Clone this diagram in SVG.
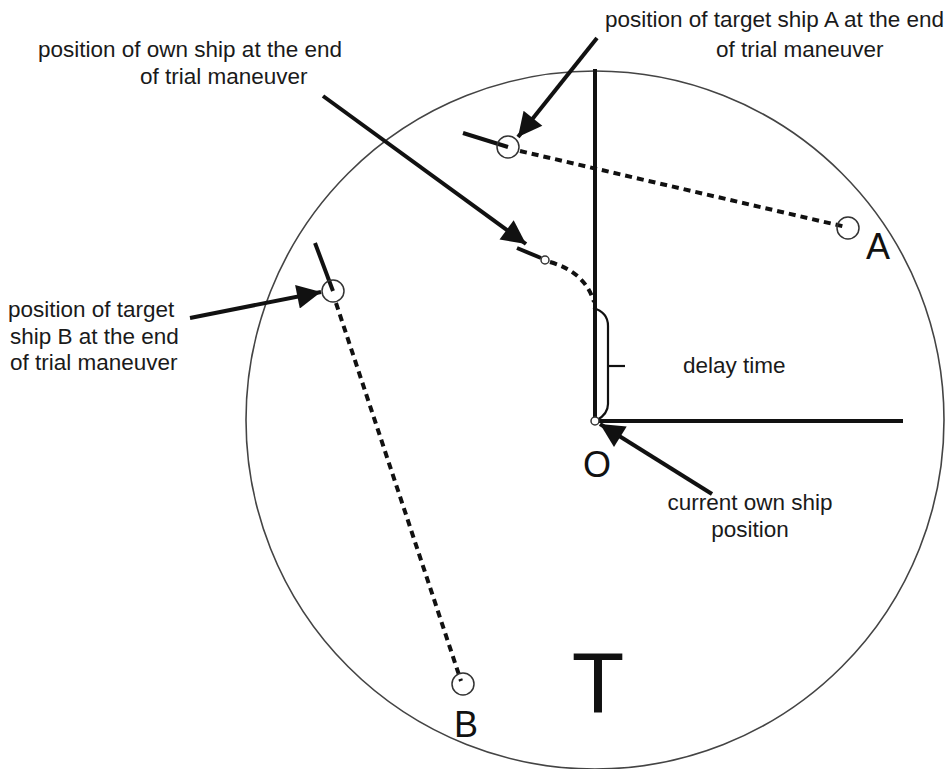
<svg xmlns="http://www.w3.org/2000/svg" width="952" height="769" viewBox="0 0 952 769">
<style>
.lbl{font-family:"Liberation Sans",Arial,sans-serif;font-size:22.5px;fill:#1a1a1a}
.big{font-family:"Liberation Sans",Arial,sans-serif;fill:#111}
.thick{stroke:#111;stroke-width:4;fill:none;stroke-linecap:butt}
.dash{stroke:#111;stroke-width:4;fill:none;stroke-dasharray:7,5}
.ring{stroke:#333;stroke-width:1.5;fill:#fff}
.ptr{stroke:#111;stroke-width:4;fill:none}
</style>
<defs>
<marker id="ah" viewBox="0 0 10 10" refX="10" refY="5" markerWidth="7" markerHeight="6" markerUnits="strokeWidth" orient="auto">
<path d="M0,0 L10,5 L0,10 z" fill="#111"/>
</marker>
</defs>
<rect width="952" height="769" fill="#fff"/>
<g id="plot">
<circle cx="595" cy="420" r="349" fill="none" stroke="#444" stroke-width="1.6"/>
<line x1="595" y1="421" x2="595" y2="69" class="thick"/>
<line x1="595" y1="421" x2="903" y2="421" class="thick"/>
</g>
<g id="delay">
<path d="M593 308 Q608 312 608 326 L608 404 Q608 414 597 420" fill="none" stroke="#111" stroke-width="2.2"/>
<line x1="608" y1="366" x2="625" y2="366" stroke="#111" stroke-width="2.2"/>
<text class="lbl" x="683" y="373">delay time</text>
</g>
<g id="own-ship">
<path d="M550 262 Q585 272 594 302" class="dash"/>
<line x1="517" y1="248" x2="541" y2="258" class="thick"/>
<circle cx="545" cy="260" r="4" class="ring"/>
</g>
<g id="target-A">
<path d="M520 151 L846 227" class="dash"/>
<line x1="463" y1="133" x2="508" y2="147" class="thick"/>
<circle cx="508" cy="147" r="11" fill="none" stroke="#333" stroke-width="1.5"/>
<circle cx="848" cy="228" r="11" fill="none" stroke="#333" stroke-width="1.5"/>
<text class="big" x="878" y="259" font-size="36" text-anchor="middle">A</text>
</g>
<g id="target-B">
<path d="M336 303 L461 681" class="dash"/>
<line x1="315" y1="243" x2="333" y2="291" class="thick"/>
<circle cx="333" cy="291" r="11" fill="none" stroke="#333" stroke-width="1.5"/>
<circle cx="463" cy="684" r="11" fill="none" stroke="#333" stroke-width="1.5"/>
<text class="big" x="466" y="737" font-size="36" text-anchor="middle">B</text>
</g>
<g id="origin">
<circle cx="595" cy="421" r="4" class="ring"/>
<text class="big" x="597" y="477" font-size="36" text-anchor="middle">O</text>
</g>
<g id="T-label">
<text class="big" x="598" y="712" font-size="86" text-anchor="middle">T</text>
</g>
<g id="connectors">
<line x1="323" y1="96" x2="526" y2="244" class="ptr" marker-end="url(#ah)"/>
<line x1="597" y1="38" x2="518" y2="137" class="ptr" marker-end="url(#ah)"/>
<line x1="190" y1="318" x2="321" y2="292" class="ptr" marker-end="url(#ah)"/>
<line x1="712" y1="494" x2="600" y2="424" class="ptr" marker-end="url(#ah)"/>
</g>
<g id="labels">
<text class="lbl" x="38" y="57">position of own ship at the end</text>
<text class="lbl" x="140" y="84">of trial maneuver</text>
<text class="lbl" x="605" y="27">position of target ship A at the end</text>
<text class="lbl" x="716" y="57">of trial maneuver</text>
<text class="lbl" x="8" y="317">position of target</text>
<text class="lbl" x="10" y="344">ship B at the end</text>
<text class="lbl" x="10" y="370">of trial maneuver</text>
<text class="lbl" x="750" y="510" text-anchor="middle">current own ship</text>
<text class="lbl" x="750" y="537" text-anchor="middle">position</text>
</g>
</svg>
